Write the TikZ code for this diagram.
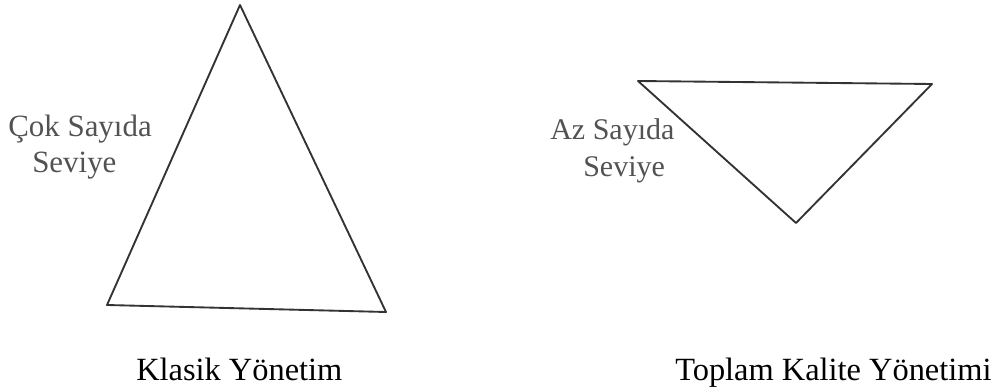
\documentclass[tikz,border=0pt]{standalone}
\usepackage{fontspec}
\setmainfont{Liberation Serif}
\begin{document}
\begin{tikzpicture}[x=0.75pt,y=-0.75pt,
  tri/.style={draw=black!80,line width=1.4pt,line join=round},
  lbl/.style={anchor=base west,inner sep=0pt,text=black!68,font=\fontsize{23.2}{27}\selectfont},
  captxt/.style={anchor=base west,inner sep=0pt,text=black,font=\fontsize{24.3}{28}\selectfont}]
\useasboundingbox (0,0) rectangle (991,391);
% left triangle
\coordinate (la) at (240,5);
\coordinate (lb) at (107,305);
\coordinate (lc) at (386,312);
\draw[tri] (la) -- (lb) -- (lc) -- cycle;
% right (inverted) triangle
\coordinate (ra) at (638,81);
\coordinate (rb) at (932,84);
\coordinate (rc) at (796,223);
\draw[tri] (ra) -- (rb) -- (rc) -- cycle;
% labels
\node[lbl] (l1) at (8,137) {Çok Sayıda};
\node[lbl] (l2) at (32,173) {Seviye};
\node[lbl,font=\fontsize{22.5}{26}\selectfont] (r1) at (550,140) {Az Sayıda};
\node[lbl,font=\fontsize{22.5}{26}\selectfont] (r2) at (583,177) {Seviye};
\node[captxt] (c1) at (136,380) {Klasik Yönetim};
\node[captxt] (c2) at (675,380) {Toplam Kalite Yönetimi};
\end{tikzpicture}
\end{document}
